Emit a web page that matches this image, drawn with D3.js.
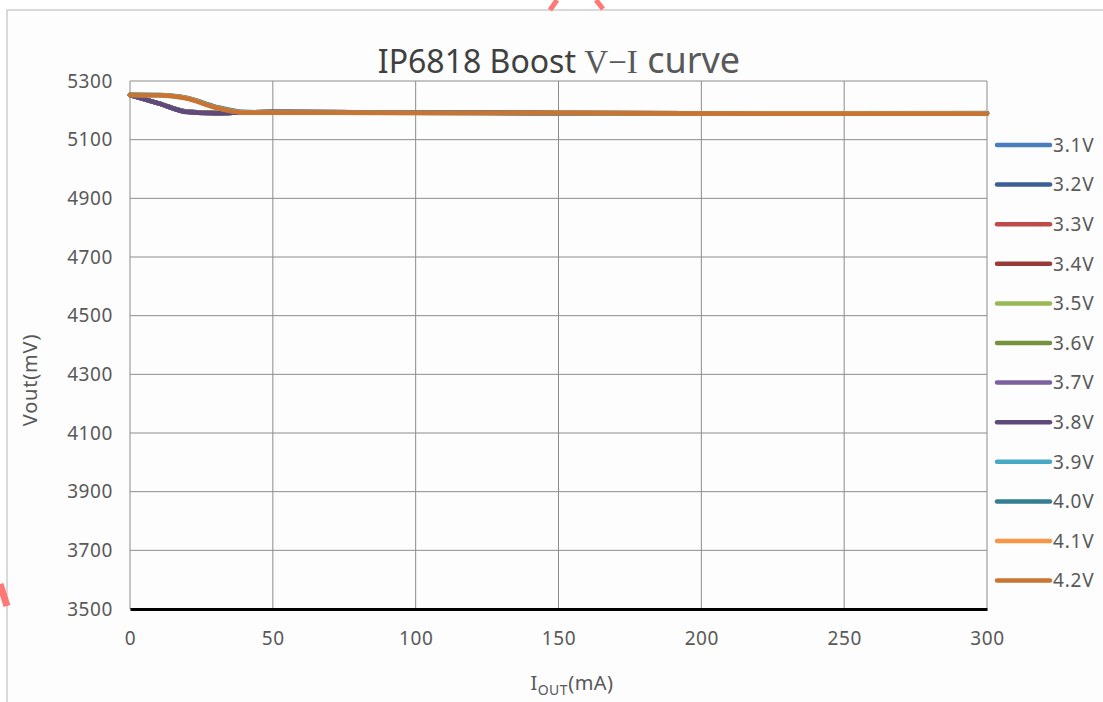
<!DOCTYPE html>
<html>
<head>
<meta charset="utf-8">
<script src="https://cdn.jsdelivr.net/npm/d3@7"></script>
<style>
  body { margin: 0; background: #fff; }
  text { font-family: "Noto Sans", "DejaVu Sans", sans-serif; }
</style>
</head>
<body>
<div id="chart"></div>
<script>
// data
const current = [0, 10, 20, 30, 40, 50, 100, 150, 200, 250, 300];
const seriesNames = ["3.1V", "3.2V", "3.3V", "3.4V", "3.5V", "3.6V", "3.7V", "3.8V", "3.9V", "4.0V", "4.1V", "4.2V"];
const seriesColors = ["#4a7ebb", "#3a5f95", "#be4b48", "#983a38", "#98b954", "#76923c", "#7d60a0", "#5f4a7b", "#46aac5", "#357d91", "#f79646", "#c87533"];
const v31 = [5252, 5224, 5196, 5191, 5193, 5194, 5193, 5191, 5190, 5190, 5190];
const v32 = [5252, 5224, 5196, 5191, 5193, 5194, 5193, 5191, 5190, 5190, 5190];
const v33 = [5252, 5224, 5195, 5191, 5193, 5194, 5193, 5191, 5190, 5190, 5190];
const v34 = [5252, 5224, 5195, 5191, 5193, 5194, 5193, 5191, 5190, 5190, 5190];
const v35 = [5252, 5224, 5195, 5191, 5193, 5194, 5193, 5191, 5190, 5190, 5190];
const v36 = [5252, 5224, 5195, 5191, 5193, 5194, 5193, 5191, 5190, 5190, 5190];
const v37 = [5252, 5224, 5194, 5190, 5193, 5194, 5193, 5190, 5189, 5190, 5190];
const v38 = [5252, 5224, 5194, 5190, 5193, 5194, 5193, 5190, 5189, 5190, 5190];
const v39 = [5253, 5252, 5242, 5212, 5194, 5193, 5192, 5189, 5190, 5190, 5191];
const v40 = [5253, 5252, 5242, 5212, 5194, 5193, 5192, 5190, 5190, 5190, 5190];
const v41 = [5252, 5251, 5241, 5210, 5193, 5192, 5191, 5191, 5189, 5189, 5189];
const v42 = [5252, 5251, 5240, 5209, 5192, 5192, 5191, 5191, 5189, 5188, 5188];
const seriesValues = [v31, v32, v33, v34, v35, v36, v37, v38, v39, v40, v41, v42];
const xTicks = [0, 50, 100, 150, 200, 250, 300];
const yTicks = [3500, 3700, 3900, 4100, 4300, 4500, 4700, 4900, 5100, 5300];

const width = 1103, height = 702;
const svg = d3.select("#chart").append("svg")
  .attr("width", width).attr("height", height);

// chart area background and frame
svg.append("rect").attr("x", 7).attr("y", 10).attr("width", 1110).attr("height", 700)
  .attr("fill", "#fcfdfc").attr("stroke", "#d9d9d9").attr("stroke-width", 2);

// bits of the red watermark that show at the edges
svg.append("path").attr("d", "M550,10 L557,0 M596,0 L603,9").attr("fill", "none")
  .attr("stroke", "#ff7878").attr("stroke-width", 5);
svg.append("path").attr("d", "M0,584 L7,606").attr("fill", "none")
  .attr("stroke", "#ff7878").attr("stroke-width", 7);

const x = d3.scaleLinear().domain([0, 300]).range([130, 987]);
const y = d3.scaleLinear().domain([3500, 5300]).range([609, 81]);

// grid
svg.append("g").selectAll("line").data(yTicks).join("line")
  .attr("x1", 130).attr("x2", 987)
  .attr("y1", d => y(d)).attr("y2", d => y(d))
  .attr("stroke", "#8c8c8c").attr("stroke-width", 1);
svg.append("g").selectAll("line").data(xTicks).join("line")
  .attr("x1", d => x(d)).attr("x2", d => x(d))
  .attr("y1", 81).attr("y2", 609)
  .attr("stroke", "#8c8c8c").attr("stroke-width", 1);

// axes
const xAxis = svg.append("g").attr("transform", "translate(0,609)")
  .call(d3.axisBottom(x).tickValues(xTicks).tickSize(0).tickPadding(23));
const yAxis = svg.append("g").attr("transform", "translate(130,0)")
  .call(d3.axisLeft(y).tickValues(yTicks).tickSize(0).tickPadding(17).tickFormat(d3.format("d")));
xAxis.select(".domain").attr("stroke", "#000").attr("stroke-width", 3);
yAxis.select(".domain").remove();
svg.selectAll(".tick text").attr("fill", "#595959").style("font-size", "19px")
  .style("letter-spacing", "0.6px")
  .style("font-family", "'Noto Sans', sans-serif");

// lines
const line = d3.line()
  .x((d, i) => x(current[i]))
  .y(d => y(d))
  .curve(d3.curveMonotoneX);
svg.append("g").selectAll("path").data(seriesValues).join("path")
  .attr("d", line)
  .attr("fill", "none")
  .attr("stroke", (d, i) => seriesColors[i])
  .attr("stroke-width", 4.5)
  .attr("stroke-linecap", "round");

// legend
const legend = svg.append("g").selectAll("g").data(seriesNames).join("g")
  .attr("transform", (d, i) => `translate(997,${145 + i * 39.6})`);
legend.append("line").attr("x1", 0).attr("x2", 53)
  .attr("stroke", (d, i) => seriesColors[i]).attr("stroke-width", 4.5)
  .attr("stroke-linecap", "round");
legend.append("text").attr("x", 56).attr("dy", "0.36em")
  .attr("fill", "#595959").style("font-size", "19px").style("letter-spacing", "0.8px")
  .text(d => d);

// title
const title = svg.append("text").attr("x", 559).attr("y", 73)
  .attr("text-anchor", "middle").attr("fill", "#404040").style("font-size", "32px");
title.append("tspan").text("IP6818 Boost ");
title.append("tspan").style("font-family", "'Liberation Serif', 'DejaVu Serif', serif")
  .style("font-size", "33px").attr("fill", "#595959").text("V\u2212I");
title.append("tspan").attr("fill", "#595959").style("font-size", "36px").text(" curve");

// axis titles
svg.append("text").attr("transform", "translate(37,380) rotate(-90)")
  .attr("text-anchor", "middle").attr("fill", "#595959").style("font-size", "20px")
  .style("letter-spacing", "0.8px")
  .text("Vout(mV)");
const xt = svg.append("text").attr("x", 572).attr("y", 690)
  .attr("text-anchor", "middle").attr("fill", "#595959").style("font-size", "20px")
  .style("letter-spacing", "0.5px");
xt.append("tspan").text("I");
xt.append("tspan").attr("dy", 5).style("font-size", "14px").text("OUT");
xt.append("tspan").attr("dy", -5).text("(mA)");
</script>
</body>
</html>
